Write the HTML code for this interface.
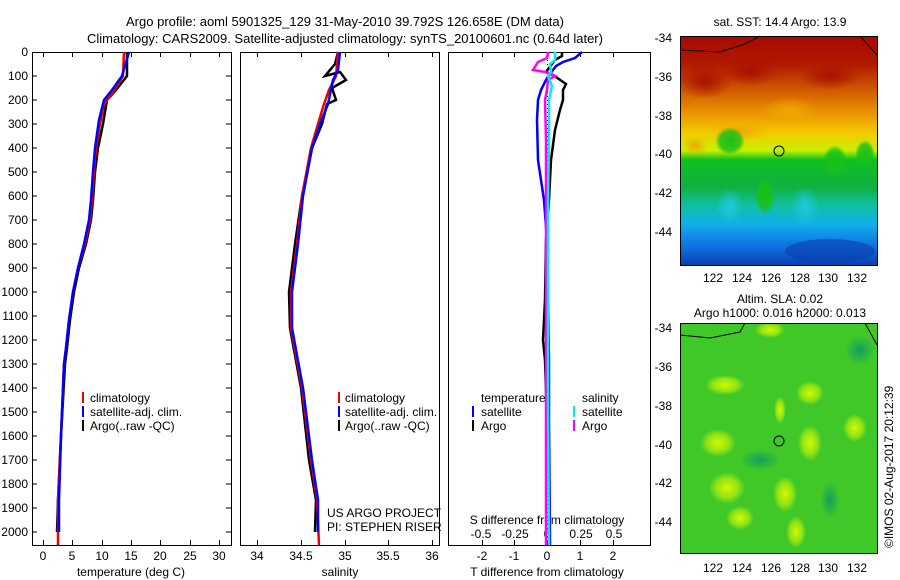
<!DOCTYPE html><html><head><style>body{margin:0;background:#fff}svg{display:block}text{font-family:"Liberation Sans",sans-serif;font-size:12px;fill:#000}</style></head><body>
<svg width="900" height="580" xmlns="http://www.w3.org/2000/svg">
<defs>
<linearGradient id="sst" x1="0" y1="0" x2="0" y2="1">
<stop offset="0" stop-color="#a80a00"/><stop offset="0.12" stop-color="#b01800"/><stop offset="0.22" stop-color="#cc5000"/><stop offset="0.33" stop-color="#e89000"/><stop offset="0.42" stop-color="#f5c800"/><stop offset="0.5" stop-color="#c8f000"/><stop offset="0.54" stop-color="#10c020"/><stop offset="0.66" stop-color="#10b040"/><stop offset="0.74" stop-color="#10c0a0"/><stop offset="0.82" stop-color="#10b0e8"/><stop offset="0.92" stop-color="#1070e0"/><stop offset="1" stop-color="#0840b0"/></linearGradient>
<radialGradient id="yb"><stop offset="0" stop-color="#d8f800"/><stop offset="0.6" stop-color="#a8ec10" stop-opacity=".8"/><stop offset="1" stop-color="#a8ec10" stop-opacity="0"/></radialGradient>
<radialGradient id="db"><stop offset="0" stop-color="#10a060"/><stop offset="1" stop-color="#10a060" stop-opacity="0"/></radialGradient>
<radialGradient id="rd"><stop offset="0" stop-color="#a81000"/><stop offset="1" stop-color="#a81000" stop-opacity="0"/></radialGradient>
<radialGradient id="gr"><stop offset="0" stop-color="#18c018"/><stop offset=".7" stop-color="#18c018" stop-opacity=".8"/><stop offset="1" stop-color="#18c018" stop-opacity="0"/></radialGradient>
<radialGradient id="or"><stop offset="0" stop-color="#f0a800"/><stop offset="1" stop-color="#f0a800" stop-opacity="0"/></radialGradient>
<radialGradient id="cy"><stop offset="0" stop-color="#20c8e0"/><stop offset="1" stop-color="#20c8e0" stop-opacity="0"/></radialGradient>
</defs>
<text x="345" y="26" text-anchor="middle" style="font-size:13px">Argo profile: aoml 5901325_129 31-May-2010 39.792S 126.658E (DM data)</text>
<text x="345" y="43" text-anchor="middle" style="font-size:13px">Climatology: CARS2009. Satellite-adjusted climatology: synTS_20100601.nc (0.64d later)</text>
<g fill="none" stroke="#000" stroke-width="1">
<rect x="32.5" y="52.5" width="199" height="493"/>
<rect x="240.5" y="52.5" width="199" height="493"/>
<rect x="448.5" y="52.5" width="202" height="493"/>
</g>
<g>
<text x="28" y="56" text-anchor="end">0</text><text x="28" y="80" text-anchor="end">100</text><text x="28" y="104" text-anchor="end">200</text><text x="28" y="128" text-anchor="end">300</text><text x="28" y="152" text-anchor="end">400</text><text x="28" y="176" text-anchor="end">500</text><text x="28" y="200" text-anchor="end">600</text><text x="28" y="224" text-anchor="end">700</text><text x="28" y="248" text-anchor="end">800</text><text x="28" y="272" text-anchor="end">900</text><text x="28" y="296" text-anchor="end">1000</text><text x="28" y="320" text-anchor="end">1100</text><text x="28" y="344" text-anchor="end">1200</text><text x="28" y="368" text-anchor="end">1300</text><text x="28" y="392" text-anchor="end">1400</text><text x="28" y="416" text-anchor="end">1500</text><text x="28" y="440" text-anchor="end">1600</text><text x="28" y="464" text-anchor="end">1700</text><text x="28" y="488" text-anchor="end">1800</text><text x="28" y="512" text-anchor="end">1900</text><text x="28" y="536" text-anchor="end">2000</text>
</g>
<g stroke="#000" stroke-width="1">
<path d="M32 76h5M32 100h5M32 124h5M32 148h5M32 172h5M32 196h5M32 220h5M32 244h5M32 268h5M32 292h5M32 316h5M32 340h5M32 364h5M32 388h5M32 412h5M32 436h5M32 460h5M32 484h5M32 508h5M32 532h5"/>
<path d="M231 76h-5M231 100h-5M231 124h-5M231 148h-5M231 172h-5M231 196h-5M231 220h-5M231 244h-5M231 268h-5M231 292h-5M231 316h-5M231 340h-5M231 364h-5M231 388h-5M231 412h-5M231 436h-5M231 460h-5M231 484h-5M231 508h-5M231 532h-5"/>
<path d="M43.5 545v-5M72.5 545v-5M102.5 545v-5M131.5 545v-5M160.5 545v-5M190.5 545v-5M219.5 545v-5M43.5 52v5M72.5 52v5M102.5 52v5M131.5 52v5M160.5 52v5M190.5 52v5M219.5 52v5"/>
<path d="M257.5 545v-5M301.5 545v-5M345.5 545v-5M388.5 545v-5M432.5 545v-5M257.5 52v5M301.5 52v5M345.5 52v5M388.5 52v5M432.5 52v5"/>
<path d="M482.5 545v-5M514.5 545v-5M547.5 545v-5M580.5 545v-5M613.5 545v-5M482.5 52v5M514.5 52v5M547.5 52v5M580.5 52v5M613.5 52v5"/>
</g>
<g text-anchor="middle">
<text x="43" y="560">0</text><text x="72" y="560">5</text><text x="102" y="560">10</text><text x="131" y="560">15</text><text x="160" y="560">20</text><text x="190" y="560">25</text><text x="219" y="560">30</text>
<text x="131" y="576">temperature (deg C)</text>
<text x="257" y="560">34</text><text x="301" y="560">34.5</text><text x="345" y="560">35</text><text x="388" y="560">35.5</text><text x="432" y="560">36</text>
<text x="340" y="576">salinity</text>
<text x="482" y="560">-2</text><text x="514" y="560">-1</text><text x="547" y="560">0</text><text x="580" y="560">1</text><text x="613" y="560">2</text>
<text x="547" y="576">T difference from climatology</text>
<text x="547" y="524">S difference from climatology</text>
<text x="481" y="538">-0.5</text><text x="515" y="538">-0.25</text><text x="547" y="538">0</text><text x="581" y="538">0.25</text><text x="614" y="538">0.5</text>
</g>
<g fill="none" stroke-width="2.5">
<polyline stroke="#000" points="127,52 127,76 116,90 107,100 103,124 98,148 95,172 93,200 91,220 86,244 79,268 74,292 70,320 67,348 65,364 61,436 58,500 57,532"/>
<polyline stroke="#e00" points="124,52 123,76 113,92 104,104 100,124 96,148 94,172 92,200 90,220 85,244 78,268 73,292 69,320 66,348 64,364 61,436 58,500 58,532 58,545"/>
<polyline stroke="#00f" points="129,52 122,76 112,90 104,100 99,120 95,148 93,172 91,200 89,220 84,244 78,268 73,292 69,320 66,348 64,364 61,436 59,500 59,532"/>
</g>
<g fill="none" stroke-width="2.5">
<polyline stroke="#000" points="338,52 335,64 325,76 340,72 346,80 332,88 336,100 327,104 322,124 312,148 302,196 295,244 289,292 290,328 301,388 309,460 316,500 315,532"/>
<polyline stroke="#e00" points="338,52 336,76 329,90 324,104 318,124 311,148 302,196 297,244 291,292 291,328 302,388 311,460 317,500 319,545"/>
<polyline stroke="#00f" points="340,52 338,70 333,80 328,104 320,124 312,148 303,196 298,244 292,292 292,328 303,388 312,460 318,500 318,532"/>
</g>
<line x1="547.5" y1="52" x2="547.5" y2="545" stroke="#000" stroke-dasharray="1,3"/>
<g fill="none" stroke-width="2.5">
<polyline stroke="#00f" points="582,52 575,58 563,62 556,66 550,74 546,80 541,90 538,100 537,120 538,160 544,200 547,240 548,300 549,360 549,420 550,545"/>
<polyline stroke="#000" points="562,52 562,56 555,60 549,68 546,72 553,75 566,84 563,90 563,100 560,110 555,130 551,160 549,200 546,240 545,300 543,340 545,360 547,420"/>
<polyline stroke="#f0f" points="548,52 547,58 538,62 533,70 545,72 555,76 548,80 547,90 545,100 546,140 546,200 546,260 546,340 546,420 546,545"/>
<polyline stroke="#0ee" points="555,52 555,60 550,64 551,72 548,76 552,86 549,100 549,140 548,200 548,300 548,400 549,545"/>
</g>
<g>
<rect x="82" y="392" width="2" height="11" fill="#e00"/><text x="90" y="402">climatology</text>
<rect x="82" y="406" width="2" height="11" fill="#00f"/><text x="90" y="416">satellite-adj. clim.</text>
<rect x="82" y="420" width="2" height="11" fill="#000"/><text x="90" y="430">Argo(..raw -QC)</text>
<rect x="338" y="392" width="2" height="11" fill="#e00"/><text x="345" y="402">climatology</text>
<rect x="338" y="406" width="2" height="11" fill="#00f"/><text x="345" y="416">satellite-adj. clim.</text>
<rect x="338" y="420" width="2" height="11" fill="#000"/><text x="345" y="430">Argo(..raw -QC)</text>
<text x="481" y="402">temperature</text><text x="582" y="402">salinity</text>
<rect x="472" y="406" width="2" height="11" fill="#00f"/><text x="481" y="416">satellite</text>
<rect x="472" y="420" width="2" height="11" fill="#000"/><text x="481" y="430">Argo</text>
<rect x="573" y="406" width="2" height="11" fill="#0ee"/><text x="582" y="416">satellite</text>
<rect x="573" y="420" width="2" height="11" fill="#f0f"/><text x="582" y="430">Argo</text>
<text x="327" y="517">US ARGO PROJECT</text><text x="327" y="531">PI: STEPHEN RISER</text>
</g>
<text x="780" y="26" text-anchor="middle">sat. SST: 14.4  Argo: 13.9</text>
<svg x="680" y="36" width="197" height="229" overflow="hidden">
<rect x="0" y="0" width="197" height="229" fill="url(#sst)"/>
<ellipse cx="25" cy="45" rx="28" ry="18" fill="url(#rd)"/>
<ellipse cx="70" cy="35" rx="30" ry="15" fill="url(#rd)"/>
<ellipse cx="150" cy="40" rx="30" ry="14" fill="url(#rd)"/>
<ellipse cx="110" cy="75" rx="30" ry="14" fill="url(#or)"/>
<ellipse cx="60" cy="95" rx="30" ry="10" fill="url(#or)"/>
<ellipse cx="50" cy="105" rx="15" ry="14" fill="url(#gr)"/>
<ellipse cx="15" cy="110" rx="12" ry="10" fill="url(#or)"/>
<ellipse cx="155" cy="125" rx="12" ry="16" fill="url(#gr)"/>
<ellipse cx="185" cy="118" rx="10" ry="14" fill="url(#gr)"/>
<ellipse cx="85" cy="160" rx="10" ry="18" fill="url(#gr)"/>
<ellipse cx="50" cy="170" rx="14" ry="18" fill="url(#cy)"/>
<ellipse cx="125" cy="170" rx="14" ry="20" fill="url(#cy)"/>
<ellipse cx="150" cy="215" rx="45" ry="12" fill="#0840b0" opacity=".6"/>
</svg>
<rect x="680.5" y="36.5" width="197" height="229" fill="none" stroke="#000"/>
<path d="M680 50 L720 52 L745 44 L760 36 M860 36 L877 55" fill="none" stroke="#000"/>
<circle cx="779" cy="151" r="5" fill="none" stroke="#000"/>
<text x="780" y="303" text-anchor="middle">Altim. SLA: 0.02</text>
<text x="780" y="317" text-anchor="middle">Argo h1000: 0.016 h2000: 0.013</text>
<svg x="680" y="323" width="197" height="230" overflow="hidden">
<rect x="0" y="0" width="197" height="230" fill="#40c828"/>
<ellipse cx="38" cy="120" rx="18" ry="14" fill="url(#yb)"/>
<ellipse cx="47" cy="165" rx="18" ry="16" fill="url(#yb)"/>
<ellipse cx="60" cy="195" rx="14" ry="12" fill="url(#yb)"/>
<ellipse cx="130" cy="120" rx="12" ry="18" fill="url(#yb)"/>
<ellipse cx="105" cy="171" rx="12" ry="18" fill="url(#yb)"/>
<ellipse cx="116" cy="209" rx="10" ry="16" fill="url(#yb)"/>
<ellipse cx="175" cy="105" rx="12" ry="14" fill="url(#yb)"/>
<ellipse cx="130" cy="70" rx="14" ry="12" fill="url(#yb)"/>
<ellipse cx="45" cy="62" rx="20" ry="10" fill="url(#yb)"/>
<ellipse cx="90" cy="7" rx="15" ry="8" fill="url(#yb)"/>
<ellipse cx="100" cy="87" rx="6" ry="14" fill="url(#yb)"/>
<ellipse cx="150" cy="177" rx="10" ry="18" fill="url(#db)"/>
<ellipse cx="180" cy="27" rx="15" ry="15" fill="url(#db)"/>
<ellipse cx="80" cy="137" rx="20" ry="10" fill="url(#db)"/>
</svg>
<rect x="680.5" y="323.5" width="197" height="230" fill="none" stroke="#000"/>
<path d="M680 335 L710 338 L740 332 L745 323 M865 323 L877 345" fill="none" stroke="#000"/>
<circle cx="779" cy="441" r="5" fill="none" stroke="#000"/>
<g text-anchor="end">
<text x="672" y="42">-34</text><text x="672" y="81">-36</text><text x="672" y="120">-38</text><text x="672" y="158">-40</text><text x="672" y="197">-42</text><text x="672" y="236">-44</text>
<text x="672" y="332">-34</text><text x="672" y="371">-36</text><text x="672" y="410">-38</text><text x="672" y="449">-40</text><text x="672" y="487">-42</text><text x="672" y="526">-44</text>
</g>
<g text-anchor="middle">
<text x="713" y="282">122</text><text x="742" y="282">124</text><text x="771" y="282">126</text><text x="800" y="282">128</text><text x="828" y="282">130</text><text x="857" y="282">132</text>
<text x="713" y="572">122</text><text x="742" y="572">124</text><text x="771" y="572">126</text><text x="800" y="572">128</text><text x="828" y="572">130</text><text x="857" y="572">132</text>
</g>
<text transform="translate(893,548) rotate(-90)">©IMOS 02-Aug-2017 20:12:39</text>
</svg>
</body></html>
